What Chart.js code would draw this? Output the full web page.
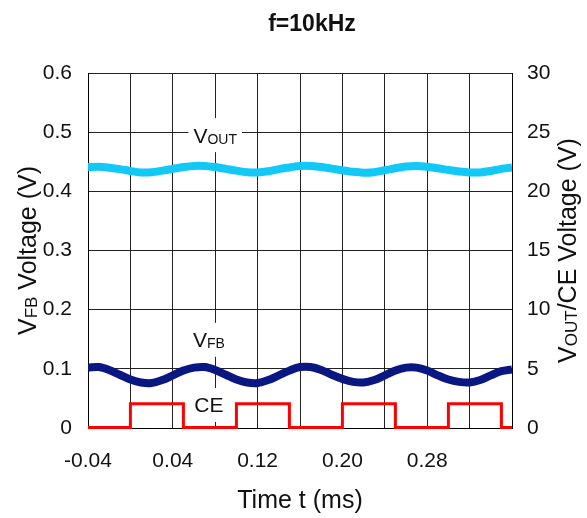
<!DOCTYPE html>
<html>
<head>
<meta charset="utf-8">
<script src="https://cdn.jsdelivr.net/npm/chart.js@4.4.0/dist/chart.umd.min.js"></script>
<style>
  html, body { margin: 0; padding: 0; background: #fff; }
  #wrap { width: 587px; height: 518px; }
</style>
</head>
<body>
<div id="wrap"><canvas id="waveChart"></canvas></div>
<script>
const timeMs = [-0.04, -0.03, -0.02, -0.01, 0.00, 0.01, 0.02, 0.03, 0.04, 0.05,
                0.06, 0.07, 0.08, 0.09, 0.10, 0.11, 0.12, 0.13, 0.14, 0.15,
                0.16, 0.17, 0.18, 0.19, 0.20, 0.21, 0.22, 0.23, 0.24, 0.25,
                0.26, 0.27, 0.28, 0.29, 0.30, 0.31, 0.32, 0.33, 0.34, 0.35, 0.36];

const vfbVolts = [0.102, 0.103, 0.098, 0.090, 0.082, 0.077, 0.076, 0.081, 0.089, 0.097,
                  0.102, 0.103, 0.098, 0.090, 0.082, 0.077, 0.076, 0.081, 0.089, 0.097,
                  0.103, 0.103, 0.098, 0.090, 0.083, 0.078, 0.077, 0.081, 0.089, 0.097,
                  0.102, 0.102, 0.097, 0.089, 0.082, 0.078, 0.077, 0.081, 0.089, 0.096, 0.099];

const voutVolts = [22.05, 22.08, 22.00, 21.88, 21.72, 21.60, 21.62, 21.75, 21.90, 22.05,
                   22.15, 22.15, 22.05, 21.90, 21.75, 21.62, 21.60, 21.70, 21.88, 22.02,
                   22.15, 22.15, 22.05, 21.92, 21.78, 21.65, 21.58, 21.62, 21.78, 21.95,
                   22.10, 22.15, 22.08, 21.95, 21.80, 21.68, 21.60, 21.60, 21.72, 21.90, 22.02];

const ceTimeMs = [-0.04, 0.00, 0.05, 0.10, 0.15, 0.20, 0.25, 0.30, 0.35, 0.36];
const ceVolts  = [0.05, 2.05, 0.05, 2.05, 0.05, 2.05, 0.05, 2.05, 0.05, 0.05];

const xTickValues = [-0.04, 0, 0.04, 0.08, 0.12, 0.16, 0.20, 0.24, 0.28, 0.32, 0.36];
const xTickLabels = ['-0.04', '', '0.04', '', '0.12', '', '0.20', '', '0.28', '', ''];
const leftTickValues = [0, 0.1, 0.2, 0.3, 0.4, 0.5, 0.6];
const leftTickLabels = ['0', '0.1', '0.2', '0.3', '0.4', '0.5', '0.6'];
const rightTickValues = [0, 5, 10, 15, 20, 25, 30];

const FONT = "'Liberation Sans', Arial, sans-serif";

// draw text made of pieces (main text + subscripts) centred on cx, cy
function drawRich(ctx, parts, cx, cy) {
    let total = 0;
    parts.forEach(p => {
        ctx.font = (p.bold ? 'bold ' : '') + p.size + 'px ' + FONT;
        p.w = ctx.measureText(p.text).width;
        total += p.w;
    });
    const base = cy + parts[0].size * 0.36;
    let x = cx - total / 2;
    ctx.fillStyle = '#111';
    ctx.textAlign = 'left';
    ctx.textBaseline = 'alphabetic';
    parts.forEach(p => {
        ctx.font = (p.bold ? 'bold ' : '') + p.size + 'px ' + FONT;
        ctx.fillText(p.text, x, base + (p.dy || 0));
        x += p.w;
    });
    return total;
}

function seriesName(chart, parts, t, v) {
    const ctx = chart.ctx;
    const cx = chart.scales.x.getPixelForValue(t);
    const cy = chart.scales.y.getPixelForValue(v);
    let w = 0;
    parts.forEach(p => {
        ctx.font = p.size + 'px ' + FONT;
        w += ctx.measureText(p.text).width;
    });
    ctx.save();
    ctx.fillStyle = '#fff';
    ctx.fillRect(cx - w / 2 - 5, cy - 17, w + 10, 34);
    drawRich(ctx, parts, cx, cy);
    ctx.restore();
}

const waveLabels = {
    id: 'waveLabels',
    beforeDatasetsDraw(chart) {
        seriesName(chart, [{ text: 'V', size: 21 }, { text: 'OUT', size: 14, dy: 1 }], 0.08, 0.495);
        seriesName(chart, [{ text: 'V', size: 21 }, { text: 'FB', size: 14, dy: 1 }], 0.074, 0.149);
        seriesName(chart, [{ text: 'CE', size: 21 }], 0.074, 0.039);
    },
    afterDraw(chart) {
        const ctx = chart.ctx;
        const area = chart.chartArea;
        const midY = (area.top + area.bottom) / 2;
        ctx.save();
        drawRich(ctx, [{ text: 'f=10kHz', size: 23, bold: true }], 312, 23);

        ctx.save();
        ctx.translate(27, midY);
        ctx.rotate(-Math.PI / 2);
        drawRich(ctx, [{ text: 'V', size: 25 }, { text: 'FB', size: 17, dy: 1 },
                       { text: ' Voltage (V)', size: 25 }], 0, 0);
        ctx.restore();

        ctx.save();
        ctx.translate(567, midY);
        ctx.rotate(-Math.PI / 2);
        drawRich(ctx, [{ text: 'V', size: 25 }, { text: 'OUT', size: 17, dy: 1 },
                       { text: '/CE Voltage (V)', size: 25 }], 0, 0);
        ctx.restore();
        ctx.restore();
    }
};

const gridColor = '#222';
const tickFont = { family: FONT, size: 21 };

new Chart(document.getElementById('waveChart'), {
    type: 'line',
    data: {
        datasets: [
            {
                label: 'VOUT',
                data: timeMs.map((t, i) => ({ x: t, y: voutVolts[i] })),
                yAxisID: 'y2',
                borderColor: '#12C8F6',
                borderWidth: 8,
                tension: 0.35,
                pointRadius: 0
            },
            {
                label: 'VFB',
                data: timeMs.map((t, i) => ({ x: t, y: vfbVolts[i] })),
                yAxisID: 'y',
                borderColor: '#0A1682',
                borderWidth: 8,
                tension: 0.35,
                pointRadius: 0
            },
            {
                label: 'CE',
                data: ceTimeMs.map((t, i) => ({ x: t, y: ceVolts[i] })),
                yAxisID: 'y2',
                stepped: true,
                borderColor: '#FF0000',
                borderWidth: 3,
                pointRadius: 0,
                clip: 4
            }
        ]
    },
    options: {
        responsive: true,
        maintainAspectRatio: false,
        animation: false,
        layout: { padding: { top: 73, left: 0, right: 0, bottom: 0 } },
        plugins: {
            legend: { display: false },
            tooltip: { enabled: false }
        },
        scales: {
            x: {
                type: 'linear',
                min: -0.04,
                max: 0.36,
                afterBuildTicks: scale => { scale.ticks = xTickValues.map(v => ({ value: v })); },
                afterFit: scale => { scale.height = 90; },
                ticks: {
                    color: '#111',
                    font: tickFont,
                    padding: 21,
                    maxRotation: 0,
                    autoSkip: false,
                    callback: (value, index) => xTickLabels[index]
                },
                grid: { color: gridColor, drawTicks: false },
                border: { color: '#000' },
                title: {
                    display: true,
                    text: 'Time t (ms)',
                    color: '#111',
                    font: { family: FONT, size: 25 },
                    padding: { top: 0, bottom: 2 }
                }
            },
            y: {
                position: 'left',
                min: 0,
                max: 0.6,
                afterBuildTicks: scale => { scale.ticks = leftTickValues.map(v => ({ value: v })); },
                afterFit: scale => { scale.width = 88; },
                ticks: {
                    color: '#111',
                    font: tickFont,
                    padding: 16,
                    callback: (value, index) => leftTickLabels[index]
                },
                grid: { color: gridColor, drawTicks: false },
                border: { color: '#000' }
            },
            y2: {
                position: 'right',
                min: 0,
                max: 30,
                afterBuildTicks: scale => { scale.ticks = rightTickValues.map(v => ({ value: v })); },
                afterFit: scale => { scale.width = 75; },
                ticks: {
                    color: '#111',
                    font: tickFont,
                    padding: 15
                },
                grid: { display: false, drawTicks: false },
                border: { color: '#000' }
            }
        }
    },
    plugins: [waveLabels]
});
</script>
</body>
</html>
